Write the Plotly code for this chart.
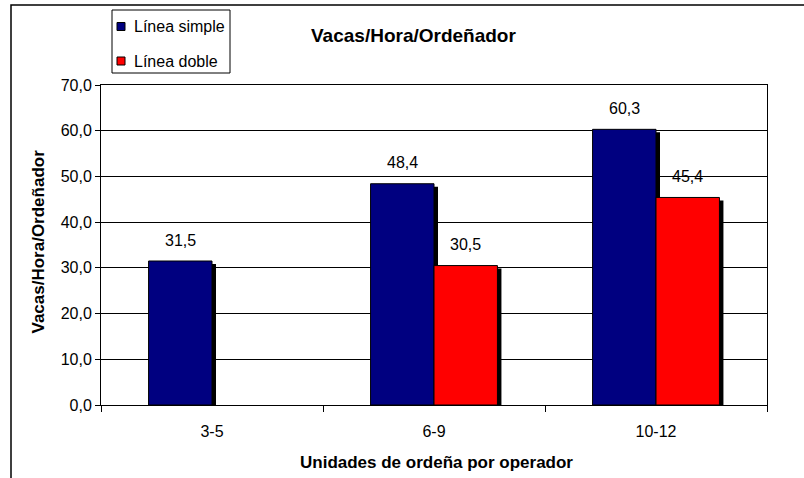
import plotly.graph_objects as go

categories = ["3-5", "6-9", "10-12"]
simple_vals = [31.5, 48.4, 60.3]
doble_vals = [None, 30.5, 45.4]
series_names = ["Línea simple", "Línea doble"]
colors = ["#000080", "#FF0000"]

FONT = "Arial, Liberation Sans, sans-serif"
W, H = 804, 478
L, R, T, B = 101, 37, 85, 73
pw, ph = W - L - R, H - T - B
ymax = 70
bw = 1 / 3.5
# shadow offset in pixels -> data units
sdx = 4 / (pw / 3)
sdy = 3 / (ph / ymax)


def px(x):
    return (x - L) / pw


def py(y):
    return (H - B - y) / ph


fig = go.Figure()
# shadows
for vals, off in [(simple_vals, -bw), (doble_vals, 0)]:
    fig.add_trace(go.Bar(
        x=categories, y=[None if v is None else v - sdy for v in vals],
        width=bw, offset=off + sdx, marker=dict(color="black", line=dict(width=0)),
        showlegend=False, hoverinfo="skip"))
# main bars
for i, (name, vals, off) in enumerate([(series_names[0], simple_vals, -bw), (series_names[1], doble_vals, 0)]):
    fig.add_trace(go.Bar(
        x=categories, y=vals, name=name, width=bw, offset=off,
        marker=dict(color=colors[i], line=dict(color="black", width=1)),
        showlegend=False))

# data labels
for vals, off in [(simple_vals, -bw / 2), (doble_vals, bw / 2)]:
    for j, v in enumerate(vals):
        if v is None:
            continue
        fig.add_annotation(x=j + off, y=v, text=f"{v:.1f}".replace(".", ","),
                           showarrow=False, yshift=21, yanchor="middle",
                           font=dict(family=FONT, size=16, color="black"))

# titles
fig.add_annotation(xref="paper", yref="paper", x=px(413.5), y=py(35),
                   text="<b>Vacas/Hora/Ordeñador</b>", showarrow=False,
                   xanchor="center", yanchor="middle",
                   font=dict(family=FONT, size=19, color="black"))
fig.add_annotation(xref="paper", yref="paper", x=px(436), y=py(462),
                   text="<b>Unidades de ordeña por operador</b>", showarrow=False,
                   xanchor="center", yanchor="middle",
                   font=dict(family=FONT, size=17, color="black"))
fig.add_annotation(xref="paper", yref="paper", x=px(38), y=py(241.5),
                   text="<b>Vacas/Hora/Ordeñador</b>", showarrow=False, textangle=-90,
                   xanchor="center", yanchor="middle",
                   font=dict(family=FONT, size=17, color="black"))

# legend (box, swatches, labels)
fig.add_shape(type="rect", xref="paper", yref="paper",
              x0=px(112), x1=px(230), y0=py(73), y1=py(10),
              line=dict(color="black", width=1), fillcolor="white")
for i, (name, cy) in enumerate(zip(series_names, [26.5, 61])):
    fig.add_shape(type="rect", xref="paper", yref="paper",
                  x0=px(117), x1=px(125), y0=py(cy + 4), y1=py(cy - 4),
                  line=dict(color="black", width=1), fillcolor=colors[i])
    fig.add_annotation(xref="paper", yref="paper", x=px(132), y=py(cy),
                       text=name, showarrow=False, xanchor="left", yanchor="middle",
                       font=dict(family=FONT, size=16, color="black"))

# outer chart border (left & top visible)
fig.add_shape(type="rect", xref="paper", yref="paper",
              x0=px(11), x1=px(W + 10), y0=py(H + 10), y1=py(5),
              line=dict(color="black", width=1.5), layer="below")

fig.update_layout(
    width=W, height=H, margin=dict(l=L, r=R, t=T, b=B),
    barmode="overlay", separators=",.",
    paper_bgcolor="white", plot_bgcolor="white",
    font=dict(family=FONT, size=16, color="black"),
    showlegend=False,
    xaxis=dict(type="category", range=[-0.5, 2.5], tickson="boundaries",
               ticks="outside", ticklen=6, tickcolor="black",
               showline=True, linecolor="black", linewidth=1, mirror=True,
               showgrid=False, ticklabelstandoff=12,
               tickfont=dict(family=FONT, size=16)),
    yaxis=dict(range=[0, ymax], dtick=10, tickformat=".1f",
               ticks="outside", ticklen=5, tickcolor="black",
               showline=True, linecolor="black", linewidth=1, mirror=True,
               showgrid=True, gridcolor="black", gridwidth=1, zeroline=False,
               tickfont=dict(family=FONT, size=16)),
)

fig.write_html("out.html", config={"displayModeBar": False},
               post_script="document.body.style.margin='0';")
